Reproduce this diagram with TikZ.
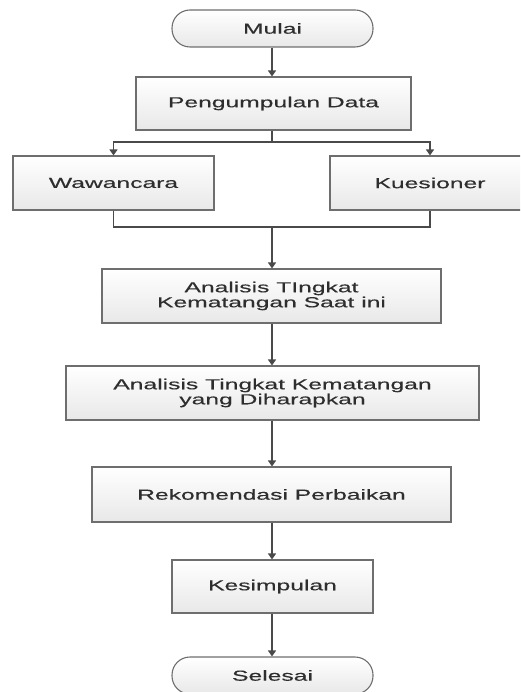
\documentclass[tikz,border=0pt]{standalone}
\usepackage{fontspec}
\setmainfont{Liberation Sans}[FakeStretch=1.7,FakeBold=0.3]
\usetikzlibrary{arrows.meta,positioning}
\definecolor{bordc}{HTML}{6E6E6E}
\definecolor{linec}{HTML}{4A4A4A}
\definecolor{txtc}{HTML}{2E2E2E}
\tikzset{
  x=1pt, y=-1pt,
  base/.style={draw=bordc, line width=1.1pt, top color=white, bottom color=black!9,
    text=txtc, font=\fontsize{14.5}{15}\selectfont, align=center, inner sep=0pt},
  boxnode/.style={base, rectangle},
  termnode/.style={base, rectangle, rounded corners=18pt},
  conn/.style={draw=linec, line width=1.3pt, -{Triangle[width=8pt,length=6pt]}},
  plain/.style={draw=linec, line width=1.3pt},
}
\begin{document}
\begin{tikzpicture}
\clip (0,0) rectangle (520,692);
\node[termnode, minimum width=201pt, minimum height=37pt] (mulai) at (272.5,28.5) {Mulai};
\node[boxnode, minimum width=275pt, minimum height=53pt] (data) at (273.5,103.5) {Pengumpulan Data};
\node[boxnode, minimum width=201pt, minimum height=54pt] (waw) at (113.5,183) {Wawancara};
\node[boxnode, minimum width=200pt, minimum height=54pt] (kue) at (430,183) {Kuesioner};
\node[boxnode, minimum width=339pt, minimum height=54pt] (a1) at (271.5,296) {Analisis TIngkat\\Kematangan Saat ini};
\node[boxnode, minimum width=413pt, minimum height=54pt] (a2) at (272.5,393) {Analisis Tingkat Kematangan\\yang Diharapkan};
\node[boxnode, minimum width=359pt, minimum height=55pt] (rek) at (271.5,494.5) {Rekomendasi Perbaikan};
\node[boxnode, minimum width=201pt, minimum height=53pt] (kes) at (272.5,586.5) {Kesimpulan};
\node[termnode, minimum width=201pt, minimum height=37pt] (sel) at (272.5,675.5) {Selesai};

\coordinate (split) at (272,142);
\coordinate (splitL) at (113.5,142);
\coordinate (splitR) at (430,142);
\coordinate (merge) at (272,227);
\coordinate (mergeL) at (113.5,227);
\coordinate (mergeR) at (430,227);

\draw[conn] (mulai.south -| 272,0) -- (data.north -| 272,0);
\draw[plain] (data.south -| split) -- (split);
\draw[conn] (split) -- (splitL) -- (waw.north);
\draw[conn] (split) -- (splitR) -- (kue.north);
\draw[plain] (waw.south) -- (mergeL) -- (mergeR) -- (kue.south);
\draw[conn] (merge) -- (a1.north -| merge);
\draw[conn] (a1.south -| 272,0) -- (a2.north -| 272,0);
\draw[conn] (a2.south -| 272,0) -- (rek.north -| 272,0);
\draw[conn] (rek.south -| 272,0) -- (kes.north -| 272,0);
\draw[conn] (kes.south -| 272,0) -- (sel.north -| 272,0);
\end{tikzpicture}
\end{document}
